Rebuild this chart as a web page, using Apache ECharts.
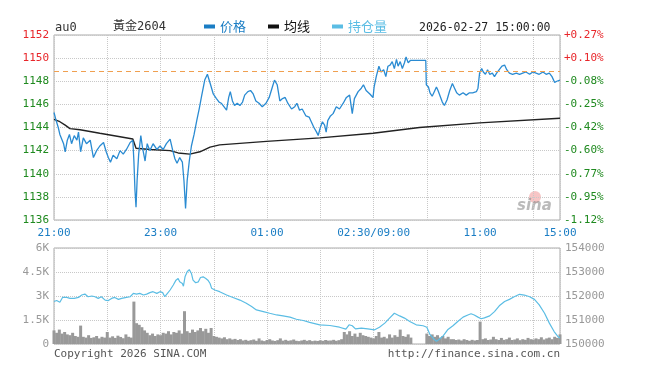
<html>
<head>
  <meta charset="UTF-8">
  <title>黃金2604</title>
  <script src="https://cdn.jsdelivr.net/npm/echarts@6/dist/echarts.min.js"></script>
  <style>
    html, body { margin: 0; padding: 0; background: #fff; }
    #main { width: 648px; height: 378px; }
  </style>
</head>
<body>
<div id="main"></div>
<script>
// x positions are in grid columns: 0 = 21:00 ... 9.5 = 15:00
var timeTickPos = [0, 2, 4, 6, 8, 9.5];
var timeTickLabels = ['21:00', '23:00', '01:00', '02:30/09:00', '11:00', '15:00'];

var basePrice = 1148.88; // previous settle, dashed line

var priceTime = [0,0.04,0.08,0.11,0.18,0.21,0.25,0.29,0.33,0.38,0.43,0.46,0.50,0.55,0.61,0.68,0.74,0.80,0.86,0.93,
  0.98,1.02,1.06,1.11,1.18,1.24,1.30,1.36,1.43,1.48,1.50,1.52,1.54,1.56,1.59,1.63,1.66,1.71,1.75,1.80,
  1.86,1.93,1.99,2.05,2.11,2.18,2.23,2.27,2.31,2.36,2.41,2.44,2.47,2.50,2.54,2.58,2.63,2.68,2.73,2.77,
  2.83,2.88,2.91,2.94,2.99,3.05,3.10,3.14,3.19,3.24,3.28,3.31,3.35,3.39,3.44,3.49,3.54,3.58,3.64,3.69,
  3.74,3.79,3.85,3.91,3.98,4.04,4.10,4.14,4.19,4.24,4.29,4.34,4.39,4.46,4.52,4.56,4.61,4.66,4.73,4.79,
  4.83,4.88,4.93,4.96,5.00,5.04,5.08,5.11,5.14,5.19,5.24,5.30,5.36,5.43,5.49,5.55,5.60,5.64,5.71,5.77,
  5.81,5.86,5.93,5.99,6.01,6.05,6.10,6.14,6.19,6.23,6.27,6.31,6.35,6.39,6.43,6.46,6.50,6.54,6.58,6.61,
  6.65,6.69,6.98,6.99,7.03,7.06,7.10,7.14,7.18,7.21,7.25,7.29,7.33,7.38,7.43,7.48,7.52,7.56,7.61,7.68,
  7.74,7.80,7.86,7.93,7.96,7.99,8.03,8.06,8.10,8.14,8.18,8.23,8.27,8.31,8.36,8.41,8.46,8.50,8.55,8.61,
  8.68,8.74,8.80,8.86,8.93,8.99,9.05,9.11,9.18,9.24,9.30,9.35,9.40,9.44,9.50];
var priceValue = [1145.3,1144.6,1144.0,1143.4,1142.6,1141.9,1142.9,1143.4,1142.6,1143.3,1142.9,1143.6,1141.9,1143.1,1142.6,1142.9,1141.4,1142.0,1142.4,1142.7,
  1141.9,1141.4,1141.0,1141.6,1141.3,1142.0,1141.7,1142.1,1142.7,1142.9,1141.1,1138.6,1137.1,1139.4,1141.7,1143.3,1142.3,1141.1,1142.6,1142.0,
  1142.6,1142.1,1142.4,1142.1,1142.6,1143.0,1142.0,1141.3,1140.9,1141.4,1141.0,1139.4,1137.0,1139.4,1141.1,1142.4,1143.4,1144.6,1145.7,1146.7,
  1148.1,1148.6,1148.5,1147.7,1146.9,1146.5,1146.2,1146.1,1145.8,1145.5,1146.6,1147.1,1146.3,1145.9,1146.1,1145.9,1146.2,1146.8,1147.1,1147.2,
  1146.9,1146.3,1146.1,1145.8,1146.1,1146.6,1147.5,1148.1,1147.7,1146.3,1146.5,1146.6,1146.1,1145.6,1145.8,1146.1,1145.5,1145.6,1145.0,1144.9,
  1144.5,1144.0,1143.6,1143.3,1144.0,1144.5,1144.2,1143.6,1144.6,1145.0,1145.2,1145.8,1145.6,1146.1,1146.6,1146.8,1145.2,1146.5,1147.1,1147.4,
  1147.7,1147.2,1146.9,1146.6,1147.5,1148.4,1149.3,1148.8,1149.0,1148.4,1149.3,1149.4,1149.7,1149.1,1149.9,1149.3,1149.7,1149.1,1149.6,1150.1,
  1149.6,1149.8,1149.8,1147.7,1147.5,1147.0,1146.7,1147.1,1147.5,1147.2,1146.7,1146.2,1145.9,1146.4,1147.2,1147.8,1147.4,1147.0,1146.8,1147.0,
  1146.8,1147.0,1147.0,1147.1,1147.4,1148.7,1149.1,1148.8,1148.6,1149.0,1148.6,1148.7,1148.4,1148.7,1149.0,1149.3,1149.4,1149.0,1148.7,1148.6,
  1148.7,1148.6,1148.7,1148.8,1148.6,1148.8,1148.7,1148.6,1148.8,1148.6,1148.7,1148.4,1147.9,1148.0,1148.1];

var avgTime = [0,0.11,0.21,0.30,0.49,0.86,1.24,1.48,1.54,1.80,2.18,2.33,2.55,2.74,2.93,3.11,3.99,4.99,5.99,6.86,7.99,9.5];
var avgValue = [1144.7,1144.5,1144.2,1143.9,1143.8,1143.5,1143.2,1143.0,1142.2,1142.1,1142.0,1141.8,1141.7,1141.9,1142.3,1142.5,1142.8,1143.1,1143.5,1144.0,1144.4,1144.8];

var oiTime = [0,0.05,0.11,0.16,0.24,0.30,0.38,0.46,0.52,0.58,0.64,0.71,0.77,0.83,0.89,0.96,1.02,1.08,1.14,1.21,
  1.27,1.36,1.43,1.49,1.55,1.61,1.68,1.74,1.80,1.86,1.93,1.99,2.04,2.08,2.13,2.18,2.24,2.29,2.33,2.36,
  2.41,2.43,2.46,2.50,2.54,2.58,2.61,2.66,2.71,2.75,2.80,2.85,2.89,2.93,2.96,3.02,3.11,3.24,3.36,3.49,
  3.61,3.71,3.80,3.93,4.05,4.18,4.30,4.43,4.55,4.68,4.80,4.99,5.18,5.36,5.48,5.54,5.60,5.66,5.77,5.89,
  6.02,6.11,6.21,6.30,6.39,6.49,6.58,6.68,6.80,6.93,7.00,7.06,7.13,7.18,7.24,7.31,7.39,7.49,7.58,7.68,
  7.77,7.83,7.89,7.96,8.02,8.08,8.18,8.27,8.36,8.46,8.55,8.64,8.74,8.83,8.93,9.02,9.11,9.21,9.30,9.39,
  9.47,9.50];
var oiValue = [151770,151810,151740,151940,151940,151900,151900,151940,152040,152080,151970,152000,151970,151900,151970,151830,151810,151900,151940,151860,
  151900,151940,151970,152110,152080,152110,152040,152080,152140,152180,152110,152180,152140,151970,152110,152250,152460,152660,152730,152590,
  152520,152410,152800,153010,153100,152940,152660,152550,152590,152770,152800,152730,152660,152520,152320,152250,152180,152040,151940,151830,
  151700,151560,151420,151350,151280,151210,151170,151120,151030,150980,150900,150800,150770,150700,150620,150800,150760,150630,150660,150630,
  150590,150700,150870,151080,151280,151170,151080,150940,150800,150760,150700,150390,150210,150110,150210,150350,150590,150760,150940,151120,
  151210,151260,151210,151120,151050,151090,151170,151350,151590,151770,151860,151970,152070,152040,151970,151860,151630,151280,150870,150520,
  150290,150250];

// volume, one bar every 0.05 column from 21:00
var volumeStep = 0.05;
var volume = [850,700,900,650,750,600,550,700,500,450,
  1150,450,400,550,380,420,500,350,450,400,
  750,400,480,380,520,440,360,600,450,400,
  2650,1300,1200,1050,850,700,550,650,500,600,
  550,700,650,800,600,750,700,850,650,2050,
  800,700,900,750,850,1000,800,950,700,1000,
  500,450,400,350,420,300,350,280,320,250,
  300,220,260,200,240,280,200,350,220,180,
  250,300,220,190,240,350,210,260,200,230,
  280,200,180,220,260,200,240,180,210,190,
  230,200,250,210,220,260,200,240,300,750,
  600,800,500,650,450,700,550,500,450,400,
  350,500,750,400,450,350,600,400,550,450,
  900,500,450,600,400,0,0,0,0,0,
  650,500,600,450,550,400,500,350,450,300,
  300,250,280,220,300,250,200,260,220,250,
  1400,300,350,250,280,450,300,250,380,260,
  300,400,250,280,350,240,300,260,380,300,
  280,350,300,420,280,350,400,300,450,380,600];

function zip(xs, ys) {
  var out = [];
  for (var i = 0; i < xs.length; i++) out.push([xs[i], ys[i]]);
  return out;
}
var volumeData = [];
for (var i = 0; i < volume.length; i++) {
  volumeData.push([+(i * volumeStep).toFixed(2), volume[i]]);
}

var mono = 'DejaVu Sans Mono, Noto Sans CJK SC, monospace';
var red = '#e8262a';
var green = '#1f8a1f';
var blue = '#1a7dc4';

var myChart = echarts.init(document.getElementById('main'), null, { renderer: 'canvas' });

var option = {
  animation: false,
  backgroundColor: '#fff',
  textStyle: { fontFamily: mono },
  legend: {
    left: 199,
    top: 15,
    icon: 'rect',
    itemWidth: 11,
    itemHeight: 4,
    itemGap: 22,
    selectedMode: false,
    textStyle: { fontFamily: 'Noto Sans CJK SC', fontSize: 13 },
    data: [
      { name: '价格', textStyle: { color: blue } },
      { name: '均线', textStyle: { color: '#111' } },
      { name: '持仓量', textStyle: { color: '#5bbde4' } }
    ]
  },
  graphic: [
    { type: 'text', left: 55, top: 22, style: { text: 'au0', font: '12px ' + mono, fill: '#333' } },
    { type: 'text', left: 113, top: 21, style: { text: '黃金2604', font: '12px ' + mono, fill: '#333' } },
    { type: 'text', left: 419, top: 22, style: { text: '2026-02-27 15:00:00', font: '11.5px ' + mono, fill: '#222' } },
    { type: 'text', left: 54, top: 349, style: { text: 'Copyright 2026 SINA.COM', font: '11px ' + mono, fill: '#555' } },
    { type: 'text', right: 88, top: 349, style: { text: 'http://finance.sina.com.cn', font: '11px ' + mono, fill: '#555' } },
    // sina watermark
    { type: 'circle', shape: { cx: 535, cy: 197, r: 6 }, style: { fill: 'rgba(232,90,90,0.35)' }, silent: true },
    { type: 'text', left: 517, top: 199, style: { text: 'sina', font: 'italic bold 15px DejaVu Sans', fill: 'rgba(130,130,130,0.55)' }, silent: true }
  ],
  grid: [
    { left: 54, right: 88, top: 35, height: 185, show: true, borderColor: '#aaa', borderWidth: 1, backgroundColor: 'transparent' },
    { left: 54, right: 88, top: 248, height: 96, show: true, borderColor: '#aaa', borderWidth: 1, backgroundColor: 'transparent' }
  ],
  xAxis: [
    {
      type: 'value', gridIndex: 0, min: 0, max: 9.5, interval: 1,
      axisLine: { show: false }, axisTick: { show: false },
      splitLine: { show: true, lineStyle: { color: '#c8c8c8', type: 'dotted' } },
      axisLabel: {
        customValues: timeTickPos,
        color: blue, fontSize: 11, fontFamily: mono, margin: 8,
        formatter: function (v) {
          var k = timeTickPos.indexOf(v);
          return k >= 0 ? timeTickLabels[k] : '';
        }
      }
    },
    {
      type: 'value', gridIndex: 1, min: 0, max: 9.5, interval: 1,
      axisLine: { show: false }, axisTick: { show: false }, axisLabel: { show: false },
      splitLine: { show: true, lineStyle: { color: '#c8c8c8', type: 'dotted' } }
    }
  ],
  yAxis: [
    {
      type: 'value', gridIndex: 0, min: 1136, max: 1152, interval: 2,
      axisLine: { show: false }, axisTick: { show: false },
      splitLine: { show: true, lineStyle: { color: '#c8c8c8', type: 'dotted' } },
      axisLabel: {
        fontSize: 11, fontFamily: mono, margin: 5,
        color: function (v) { return Number(v) > basePrice ? red : green; },
        formatter: function (v) { return String(v); }
      }
    },
    {
      type: 'value', gridIndex: 0, min: 1136, max: 1152, interval: 2, position: 'right',
      axisLine: { show: false }, axisTick: { show: false }, splitLine: { show: false },
      axisLabel: {
        fontSize: 11, fontFamily: mono, margin: 4,
        color: function (v) { return Number(v) > basePrice ? red : green; },
        formatter: function (v) {
          var p = (v - basePrice) / basePrice * 100;
          return (p >= 0 ? '+' : '-') + Math.abs(p).toFixed(2) + '%';
        }
      }
    },
    {
      type: 'value', gridIndex: 1, min: 0, max: 6000, interval: 1500,
      axisLine: { show: false }, axisTick: { show: false },
      splitLine: { show: true, lineStyle: { color: '#c8c8c8', type: 'dotted' } },
      axisLabel: {
        fontSize: 11, fontFamily: mono, margin: 5, color: '#999',
        formatter: function (v) { return v === 0 ? '0' : (v / 1000) + 'K'; }
      }
    },
    {
      type: 'value', gridIndex: 1, min: 150000, max: 154000, interval: 1000, position: 'right',
      axisLine: { show: false }, axisTick: { show: false }, splitLine: { show: false },
      axisLabel: {
        fontSize: 11, fontFamily: mono, margin: 5, color: '#999',
        formatter: function (v) { return String(v); }
      }
    }
  ],
  series: [
    {
      name: '成交量', type: 'bar', xAxisIndex: 1, yAxisIndex: 2,
      data: volumeData, barWidth: 3, itemStyle: { color: '#999' }, silent: true
    },
    {
      name: '持仓量', type: 'line', xAxisIndex: 1, yAxisIndex: 3,
      data: zip(oiTime, oiValue), showSymbol: false, symbol: 'none',
      lineStyle: { color: '#5bbde4', width: 1.2 }, itemStyle: { color: '#5bbde4' }
    },
    {
      name: '均线', type: 'line', xAxisIndex: 0, yAxisIndex: 0,
      data: zip(avgTime, avgValue), showSymbol: false, symbol: 'none',
      lineStyle: { color: '#222', width: 1.4 }, itemStyle: { color: '#111' }
    },
    {
      name: '价格', type: 'line', xAxisIndex: 0, yAxisIndex: 0,
      data: zip(priceTime, priceValue), showSymbol: false, symbol: 'none',
      lineStyle: { color: '#2a8bd2', width: 1.3 }, itemStyle: { color: blue },
      markLine: {
        silent: true, symbol: 'none', label: { show: false },
        lineStyle: { color: '#f0a050', type: [5, 4], width: 1.2 },
        data: [{ yAxis: basePrice }]
      }
    }
  ]
};

myChart.setOption(option);
</script>
</body>
</html>
